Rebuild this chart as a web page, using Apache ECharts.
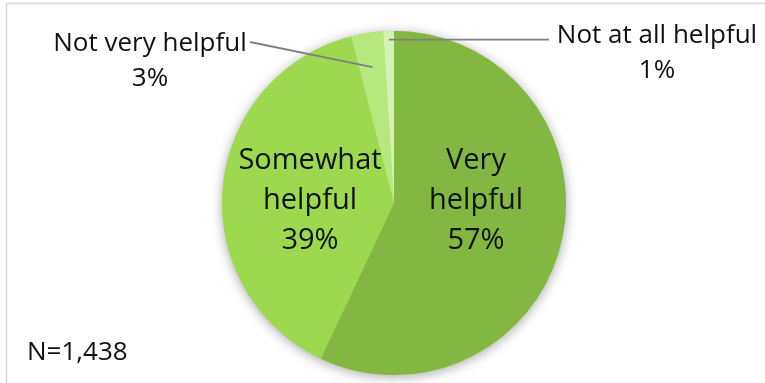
<!DOCTYPE html>
<html>
<head>
<meta charset="utf-8">
<script src="https://cdn.jsdelivr.net/npm/echarts@6/dist/echarts.min.js"></script>
<style>
  html, body { margin: 0; padding: 0; background: #fff; }
  #chart { width: 765px; height: 383px; }
</style>
</head>
<body>
<div id="chart"></div>
<script>
// Response categories, clockwise from 12 o'clock
const categories = ['Very helpful', 'Somewhat helpful', 'Not very helpful', 'Not at all helpful'];
// Share of respondents, percent
const shares = [57, 39, 3, 1];
// Label text shown for each slice
const labelLines = [['Very', 'helpful'], ['Somewhat', 'helpful'], ['Not very helpful'], ['Not at all helpful']];
const sampleNote = 'N=1,438';

const sliceColors = ['#82b842', '#9dd94e', '#b7e87f', '#d5f2b6'];
const FONT = '"Open Sans", "Noto Sans", sans-serif';

const chart = echarts.init(document.getElementById('chart'), null, { renderer: 'canvas' });

const CENTER = [394, 203];
const RADIUS = 172;
const total = shares.reduce((a, b) => a + b, 0);

// Mid-angle of each slice (radians, clockwise from top), used for leader-line anchors
function midAngle(i) {
  let before = 0;
  for (let k = 0; k < i; k++) before += shares[k];
  return ((before + shares[i] / 2) / total) * 2 * Math.PI;
}
function anchor(i, frac) {
  const a = midAngle(i);
  return [CENTER[0] + Math.sin(a) * RADIUS * frac, CENTER[1] - Math.cos(a) * RADIUS * frac];
}

// label centres for each slice
const labelPos = [[476, 201], [310, 201], [150, 61], [657, 53]];

const data = categories.map((name, i) => ({
  name: name,
  value: shares[i],
  itemStyle: { color: sliceColors[i] },
  label: i < 2
    ? { position: 'inside', fontSize: 29, lineHeight: 40 }
    : { position: 'outside', fontSize: 26, lineHeight: 35 }
}));

const a2 = anchor(2, 0.8);
const a3 = anchor(3, 0.95);
const leaderStyle = { stroke: '#808080', lineWidth: 1.8, fill: 'none' };

chart.setOption({
  backgroundColor: '#ffffff',
  animation: false,
  graphic: [
    {
      type: 'rect',
      shape: { x: 6.5, y: 3.5, width: 820, height: 420 },
      style: { fill: 'none', stroke: '#d9d9d9', lineWidth: 1.5 },
      silent: true
    },
    {
      type: 'text',
      left: 27,
      top: 340,
      style: { text: sampleNote, font: '26px ' + FONT, fill: '#111' }
    },
    {
      type: 'polyline',
      z: 100,
      shape: { points: [[250, 42], a2] },
      style: leaderStyle,
      silent: true
    },
    {
      type: 'polyline',
      z: 100,
      shape: { points: [a3, [549, a3[1]]] },
      style: leaderStyle,
      silent: true
    }
  ],
  series: [
    {
      // soft shadow under the whole pie
      type: 'pie',
      center: CENTER,
      radius: RADIUS,
      silent: true,
      z: 1,
      label: { show: false },
      labelLine: { show: false },
      itemStyle: {
        color: '#9dd94e',
        shadowBlur: 12,
        shadowColor: 'rgba(0,0,0,0.35)',
        shadowOffsetY: 2
      },
      data: [{ value: total, name: '' }]
    },
    {
      type: 'pie',
      center: CENTER,
      radius: RADIUS,
      startAngle: 90,
      clockwise: true,
      z: 2,
      avoidLabelOverlap: false,
      itemStyle: { borderWidth: 0 },
      label: {
        show: true,
        color: '#111',
        fontFamily: FONT,
        align: 'center',
        formatter: p => labelLines[p.dataIndex].join('\n') + '\n' + p.value + '%'
      },
      labelLine: { show: false },
      labelLayout: function (params) {
        const p = labelPos[params.dataIndex];
        return { x: p[0], y: p[1], align: 'center', verticalAlign: 'middle' };
      },
      data: data
    }
  ]
});
</script>
</body>
</html>
